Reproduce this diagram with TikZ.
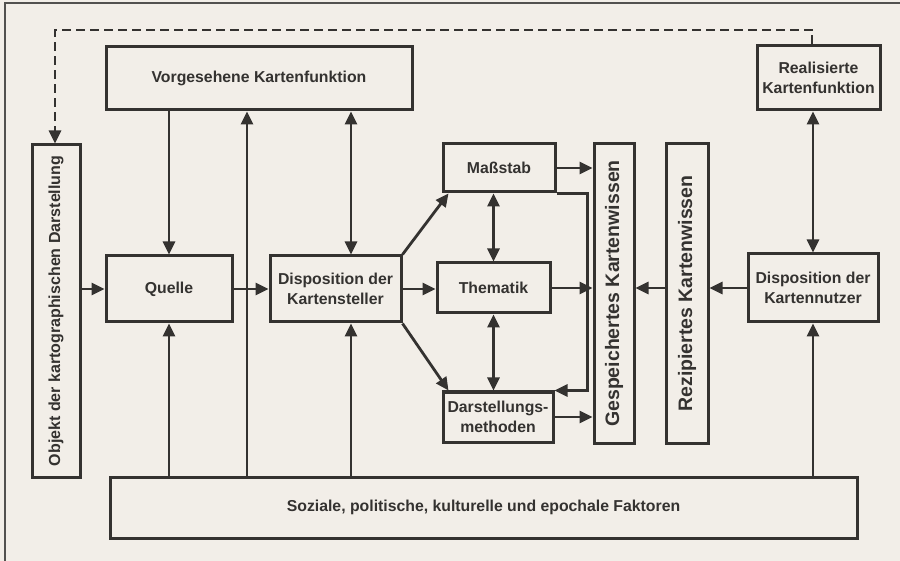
\documentclass[tikz,border=0pt]{standalone}
\usepackage{fontspec}
\setmainfont{Liberation Sans}
\usetikzlibrary{arrows.meta,calc}
\definecolor{ink}{RGB}{52,50,48}
\definecolor{paper}{RGB}{242,238,232}
\begin{document}
\begin{tikzpicture}[x=1pt,y=-1pt,
  box/.style={draw=ink, line width=3pt, inner sep=0pt, align=center, text=ink,
    font=\fontsize{15.8}{20}\selectfont\bfseries},
  arr/.style={draw=ink, line width=2.8pt, -{Triangle[length=13pt,width=12pt]}},
  dbl/.style={draw=ink, line width=2.8pt, {Triangle[length=13pt,width=12pt]}-{Triangle[length=13pt,width=12pt]}},
  dsh/.style={draw=ink, line width=2.8pt, dash pattern=on 9pt off 5pt},
  vtext/.style={rotate=90, text=ink, inner sep=0pt},
  vbig/.style={vtext, font=\fontsize{19.5}{22}\selectfont\bfseries},
  vsmall/.style={vtext, font=\fontsize{16}{20}\selectfont\bfseries}
]
\fill[paper] (0,0) rectangle (900,561);
\useasboundingbox (0,0) rectangle (900,561);
\draw[draw=ink!85, line width=2pt] (5,561) -- (5,3) -- (900,3);

\node[box, minimum width=306pt, minimum height=63pt] (vk) at (259,78.5) {Vorgesehene Kartenfunktion};
\node[box, minimum width=123pt, minimum height=64pt] (rk) at (818.5,78) {Realisierte\\Kartenfunktion};
\node[box, minimum width=48pt, minimum height=332pt] (ob) at (56,311) {};
\node[vsmall] (obt) at (ob.center) {Objekt der kartographischen Darstellung};
\node[box, minimum width=126pt, minimum height=66pt] (qu) at (169,289) {Quelle};
\node[box, minimum width=131pt, minimum height=66pt] (dk) at (335.5,289) {Disposition der\\Kartensteller};
\node[box, minimum width=112pt, minimum height=48pt] (ms) at (499,168) {Maßstab};
\node[box, minimum width=113pt, minimum height=50pt] (th) at (493.5,288) {Thematik};
\node[box, minimum width=110pt, minimum height=50pt] (dm) at (498,417) {Darstellungs-\\methoden};
\node[box, minimum width=40pt, minimum height=299pt] (gk) at (614,293.5) {};
\node[vbig] (gkt) at (gk.center) {Gespeichertes Kartenwissen};
\node[box, minimum width=42pt, minimum height=299pt] (rz) at (687,293.5) {};
\node[vbig] (rzt) at (rz.center) {Rezipiertes Kartenwissen};
\node[box, minimum width=130pt, minimum height=68pt] (dn) at (813,288) {Disposition der\\Kartennutzer};
\node[box, minimum width=747pt, minimum height=61pt] (sz) at (483.5,507.5) {Soziale, politische, kulturelle und epochale Faktoren};

\coordinate (xa) at (247,0);
\coordinate (xb) at (351,0);
\coordinate (d1) at (812,30);
\coordinate (d2) at (55,30);

% dashed feedback
\draw[dsh] (d1 |- rk.north) -- (d1) -- (d2) -- ($(d2 |- ob.north)+(0,-10)$);
\draw[arr] ($(d2 |- ob.north)+(0,-14)$) -- (d2 |- ob.north);

% from top box
\draw[arr] (qu.north |- vk.south) -- (qu.north);
\draw[arr] (xa |- sz.north) -- (xa |- vk.south);
\draw[dbl] (xb |- vk.south) -- (xb |- dk.north);

% main row
\draw[arr] (qu.west -| ob.east) -- (qu.west);
\draw[arr] (qu.east) -- (dk.west);
\draw[arr] (dk.east) -- (dk.east -| th.west);
\draw[arr] (dk.north east) -- ([xshift=7pt]ms.south west);
\draw[arr] (dk.south east) -- ([xshift=7pt]dm.north west);

% middle column
\draw[dbl] (th.north |- ms.south) -- (th.north);
\draw[dbl] (th.south) -- (th.south |- dm.north);
\draw[arr] (ms.east) -- (ms.east -| gk.west);
\draw[arr] (th.east) -- (th.east -| gk.west);
\draw[arr] (dm.east) -- (dm.east -| gk.west);
\draw[arr] (ms.south east) -- ++(31,0) |- (dm.north east);

% right side
\draw[arr] (rz.west |- dn.west) -- (gk.east |- dn.west);
\draw[arr] (dn.west) -- (dn.west -| rz.east);
\draw[dbl] (dn.north |- rk.south) -- (dn.north);

% from bottom box
\draw[arr] (dn.south |- sz.north) -- (dn.south);
\draw[arr] (qu.south |- sz.north) -- (qu.south);
\draw[arr] (xb |- sz.north) -- (xb |- dk.south);
\end{tikzpicture}
\end{document}
